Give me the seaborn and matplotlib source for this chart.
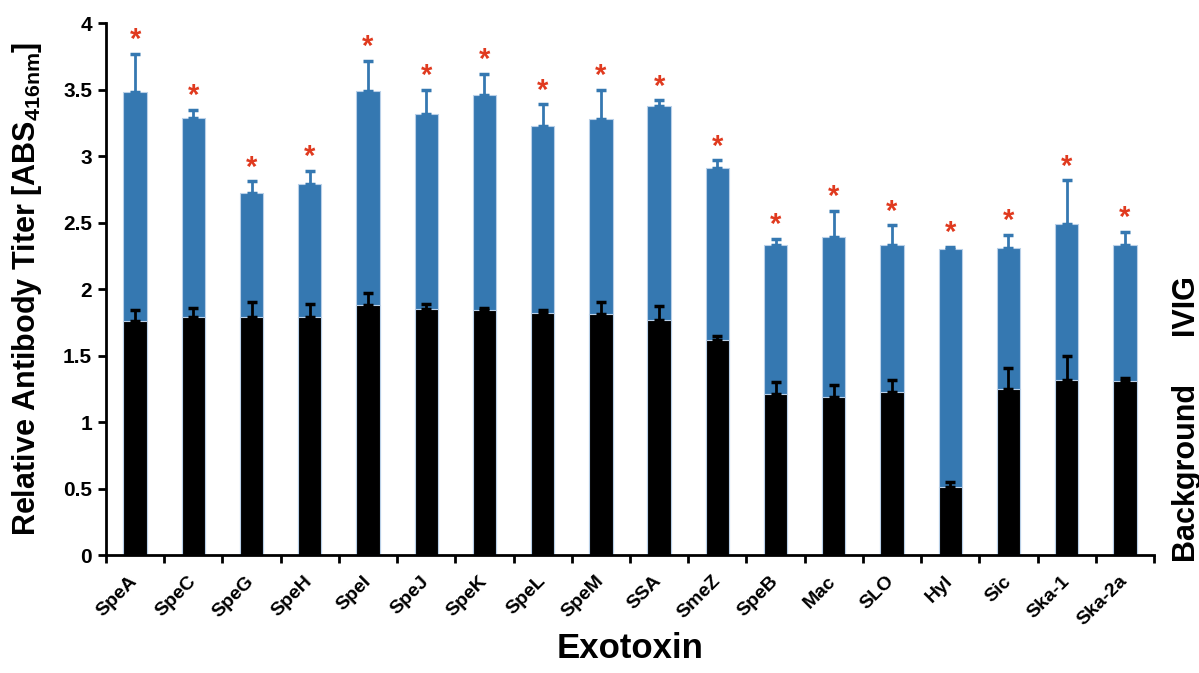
import numpy as np
import pandas as pd
import matplotlib
matplotlib.use("Agg")
import matplotlib.pyplot as plt
import seaborn as sns
from matplotlib.ticker import FixedLocator, NullFormatter

# Exotoxin panel
toxins = ["SpeA", "SpeC", "SpeG", "SpeH", "SpeI", "SpeJ", "SpeK", "SpeL", "SpeM",
          "SSA", "SmeZ", "SpeB", "Mac", "SLO", "Hyl", "Sic", "Ska-1", "Ska-2a"]

# IVIG titers and upper error (SD)
ivig = [3.48, 3.29, 2.72, 2.79, 3.49, 3.32, 3.46, 3.23, 3.28,
        3.38, 2.91, 2.33, 2.39, 2.33, 2.30, 2.31, 2.49, 2.33]
ivig_err = [0.29, 0.06, 0.09, 0.10, 0.23, 0.18, 0.16, 0.16, 0.22,
            0.04, 0.06, 0.05, 0.20, 0.15, 0.02, 0.10, 0.33, 0.10]

# Background titers and upper error (SD)
background = [1.76, 1.79, 1.79, 1.79, 1.88, 1.85, 1.84, 1.82, 1.81,
              1.77, 1.62, 1.21, 1.19, 1.23, 0.51, 1.25, 1.32, 1.31]
background_err = [0.08, 0.07, 0.11, 0.10, 0.09, 0.04, 0.02, 0.02, 0.09,
                  0.10, 0.03, 0.09, 0.09, 0.09, 0.04, 0.16, 0.18, 0.02]

# significance marks above IVIG bars
significant = [True] * len(toxins)

y_ticks = [0, 0.5, 1, 1.5, 2, 2.5, 3, 3.5, 4]
y_tick_labels = ["0", "0.5", "1", "1.5", "2", "2.5", "3", "3.5", "4"]

BLUE = "#3578b1"
BLACK = "#000000"
RED = "#e03a1f"
EDGE = "#b9d0e8"

sns.set_theme(style="white")
plt.rcParams["font.family"] = ["Liberation Sans", "DejaVu Sans"]
plt.rcParams["font.weight"] = "bold"
plt.rcParams["text.color"] = "black"
plt.rcParams["axes.labelcolor"] = "black"
plt.rcParams["xtick.color"] = "black"
plt.rcParams["ytick.color"] = "black"
plt.rcParams["mathtext.fontset"] = "custom"
plt.rcParams["mathtext.bf"] = "Liberation Sans:bold"
plt.rcParams["mathtext.rm"] = "Liberation Sans:bold"

df = pd.DataFrame({"toxin": toxins, "ivig": ivig, "background": background})

fig = plt.figure(figsize=(11.99, 6.73), dpi=100)
ax = fig.add_axes([0.0884, 0.1753, 0.8741, 0.7901])

sns.barplot(data=df, x="toxin", y="ivig", order=toxins, color=BLUE,
            saturation=1, width=0.4, errorbar=None, edgecolor=EDGE,
            linewidth=0.8, ax=ax)
sns.barplot(data=df, x="toxin", y="background", order=toxins, color=BLACK,
            saturation=1, width=0.4, errorbar=None, edgecolor=EDGE,
            linewidth=0.8, ax=ax)

x = np.arange(len(toxins))
ivig_arr = np.array(ivig)
bg_arr = np.array(background)
ivig_e = np.array(ivig_err)
bg_e = np.array(background_err)

ax.errorbar(x, ivig_arr, yerr=[np.zeros_like(ivig_e), ivig_e], fmt="none",
            ecolor=BLUE, elinewidth=2.0, capsize=3.6, capthick=2.5, zorder=1.5)
ax.errorbar(x, bg_arr, yerr=[np.zeros_like(bg_e), bg_e], fmt="none",
            ecolor=BLACK, elinewidth=2.0, capsize=3.6, capthick=2.5, zorder=3)

for xi, top, sig in zip(x, ivig_arr + ivig_e, significant):
    if sig:
        ax.annotate("*", xy=(xi, top), xytext=(0, 4), textcoords="offset points",
                    ha="center", va="baseline", color=RED, fontsize=21,
                    fontweight="bold")

ax.set_xlim(-0.5, len(toxins) - 0.5)
ax.set_ylim(0, 4)
ax.set_yticks(y_ticks)
ax.set_yticklabels(y_tick_labels, fontsize=15, fontweight="bold")
ax.set_xticks(x)
ax.set_xticklabels(toxins, rotation=45, ha="right", va="center",
                   rotation_mode="anchor", fontsize=14, fontweight="bold")
ax.xaxis.set_minor_locator(FixedLocator(np.arange(-0.5, len(toxins), 1.0)))
ax.xaxis.set_minor_formatter(NullFormatter())
ax.tick_params(axis="x", which="major", length=0, pad=17)
ax.tick_params(axis="x", which="minor", length=6, width=2, color="black",
               direction="out", bottom=True)
ax.tick_params(axis="y", which="major", length=6, width=2, color="black",
               direction="out", left=True, pad=4)

for side in ["top", "right"]:
    ax.spines[side].set_visible(False)
for side in ["left", "bottom"]:
    ax.spines[side].set_color("black")
    ax.spines[side].set_linewidth(2)

ax.set_xlabel("Exotoxin", fontsize=25, fontweight="bold", labelpad=2)
ax.set_ylabel(r"Relative Antibody Titer [ABS$_{\mathbf{416nm}}$]",
              fontsize=22, fontweight="bold", labelpad=14)

fig.text(0.988, 0.548, "IVIG", rotation=90, ha="center", va="center",
         fontsize=22, fontweight="bold")
fig.text(0.988, 0.300, "Background", rotation=90, ha="center", va="center",
         fontsize=22, fontweight="bold")

fig.savefig("out.png", dpi=100)
